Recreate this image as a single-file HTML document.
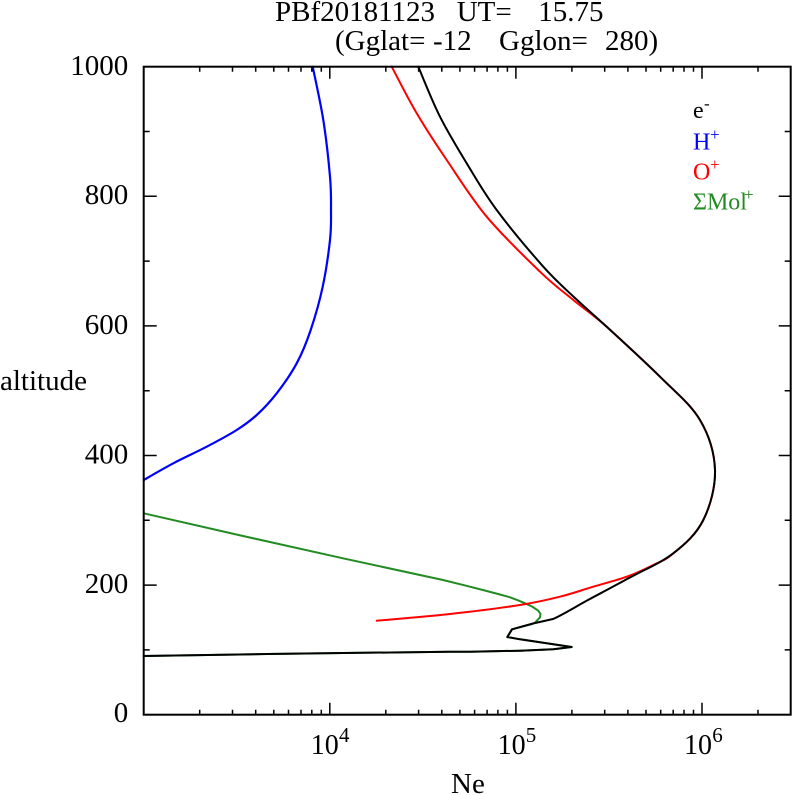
<!DOCTYPE html>
<html>
<head>
<meta charset="utf-8">
<style>
  html,body{margin:0;padding:0;background:#fff;}
  svg{display:block;}
  text{font-family:"Liberation Serif","DejaVu Serif",serif;}
</style>
</head>
<body>
<svg width="792" height="795" viewBox="0 0 792 795" xmlns="http://www.w3.org/2000/svg">
  <rect x="0" y="0" width="792" height="795" fill="#fff"/>

  <!-- Title -->
  <g font-size="29" fill="#000">
    <text x="275" y="21">PBf20181123</text>
    <text x="456.7" y="21">UT=</text>
    <text x="538.3" y="21">15.75</text>
    <text x="335" y="50">(Gglat=</text>
    <text x="433" y="50">-12</text>
    <text x="499" y="50">Gglon=</text>
    <text x="605" y="50">280)</text>
  </g>

  <!-- Curves -->
  <g fill="none" stroke-linejoin="round" stroke-linecap="round">
    <!-- H+ blue -->
    <path stroke="#0000ff" stroke-width="2.2" d="M312.7,66.7
      C314.5,75.6 320.4,101.7 323.3,120
      C326.2,138.3 328.7,161.7 330,176.7
      C331.3,191.7 331,199.45 331,210
      C331,220.55 331.4,227.2 330,240
      C328.6,252.8 325.9,271.7 322.7,286.7
      C319.5,301.7 315,317.2 310.7,330
      C306.4,342.8 302.4,352.75 296.7,363.3
      C291,373.85 283.4,384.7 276.7,393.3
      C270,401.9 263.4,408.9 256.7,415
      C250,421.1 245,424.7 236.7,430
      C228.4,435.3 217.3,441.15 206.7,446.7
      C196.1,452.25 183.8,457.75 173.3,463.3
      C162.8,468.85 148.6,477.2 143.7,480"/>
    <!-- Mol+ green -->
    <polyline stroke="#228b22" stroke-width="2" points="143.7,513.3 243,536 343,558.3 443,580 466,585.7 486.7,591 500,594.5 510,597.3 518,600.3 525,603.3 532,606.5 538.3,610.7 540.5,614 540,617.3 535,622.7 532,624 512,629.3 507.3,637 520,639.3 571.7,647 553.3,649.3 520,650.7 470,651.7 450,651.7 267,654 143.7,656"/>
    <!-- O+ red -->
    <path stroke="#ff0000" stroke-width="2" d="M391.7,66.7
      C395.9,74.5 407.5,97.75 416.7,113.3
      C425.9,128.85 435,142.8 446.7,160
      C458.4,177.2 471.15,198.1 486.7,216.7
      C502.25,235.3 525.6,257.8 540,271.7
      C554.4,285.6 562.1,290.8 573.3,300
      C584.5,309.2 592.55,314.2 607,327
      C621.2,340.1 644.5,361.2 660,376.7
      C675.5,392.2 690.8,404.4 700,420
      C709.2,435.6 714.45,453.3 715,470
      C715.55,486.7 710.3,506.1 703.3,520
      C696.35,533.9 685.9,543.6 673.3,553.3
      C665,560.8 661.1,561.1 653.3,565
      C645.5,568.9 636.7,573.1 626.7,576.7
      C616.7,580.3 604.4,583.4 593.3,586.7
      C582.2,590 572.2,593.65 560,596.7
      C547.8,599.75 538.3,602.1 520,605
      C501.7,607.9 473.9,611.4 450,614
      C426.1,616.6 388.9,619.6 376.7,620.7"/>
    <!-- e- black -->
    <path stroke="#000" stroke-width="2" d="M418.3,66.7
      C421.9,75 431.9,100.6 440,116.7
      C448.1,132.8 457.3,147.8 466.7,163.3
      C476.2,178.9 483.9,192.8 496.7,210
      C509.5,227.2 530.3,252 543.3,266.7
      C556.4,281.4 564.4,288 575,298
      C585.6,308.1 592.8,313.9 607,327
      C621.2,340.1 644.5,361.2 660,376.7
      C675.5,392.2 690.8,404.4 700,420
      C709.2,435.6 714.45,453.3 715,470
      C715.55,486.7 710.3,506.1 703.3,520
      C696.35,533.9 685.9,543.6 673.3,553.3
      C660.75,563.05 642.2,570.7 628,578.5
      C613.8,586.3 600.5,593.25 588,600
      C575.5,606.75 562.2,615.1 553,619
      L533,623.5 L512,629.3 L507.3,637 L520,639.3 L571.7,647 L553.3,649.3 L520,650.7 L470,651.7 L450,651.7 L267,654 L143.7,656"/>
  </g>

  <!-- Axes box -->
  <rect x="143.7" y="66.7" width="647" height="648" fill="none" stroke="#000" stroke-width="2"/>

  <!-- X ticks bottom & top -->
  <g stroke="#000" stroke-width="1.5">
    <path d="
      M199.7,714.7v-5 M232.5,714.7v-5 M255.7,714.7v-5 M273.8,714.7v-5 M288.5,714.7v-5 M301,714.7v-5 M311.8,714.7v-5 M321.3,714.7v-5
      M385.8,714.7v-5 M418.6,714.7v-5 M441.8,714.7v-5 M459.9,714.7v-5 M474.6,714.7v-5 M487.1,714.7v-5 M497.9,714.7v-5 M507.4,714.7v-5
      M571.9,714.7v-5 M604.7,714.7v-5 M627.9,714.7v-5 M646,714.7v-5 M660.7,714.7v-5 M673.2,714.7v-5 M684,714.7v-5 M693.5,714.7v-5
      M758,714.7v-5
      M199.7,66.7v5 M232.5,66.7v5 M255.7,66.7v5 M273.8,66.7v5 M288.5,66.7v5 M301,66.7v5 M311.8,66.7v5 M321.3,66.7v5
      M385.8,66.7v5 M418.6,66.7v5 M441.8,66.7v5 M459.9,66.7v5 M474.6,66.7v5 M487.1,66.7v5 M497.9,66.7v5 M507.4,66.7v5
      M571.9,66.7v5 M604.7,66.7v5 M627.9,66.7v5 M646,66.7v5 M660.7,66.7v5 M673.2,66.7v5 M684,66.7v5 M693.5,66.7v5
      M758,66.7v5"/>
    <path d="M329.8,714.7v-12 M515.9,714.7v-12 M702,714.7v-12 M329.8,66.7v12 M515.9,66.7v12 M702,66.7v12"/>
  </g>

  <!-- Y ticks left & right -->
  <g stroke="#000" stroke-width="1.5">
    <path d="
      M143.7,649.9h6 M143.7,520.3h6 M143.7,390.7h6 M143.7,261.1h6 M143.7,131.5h6
      M143.7,585.1h13 M143.7,455.5h13 M143.7,325.9h13 M143.7,196.3h13
      M790.7,649.9h-6 M790.7,520.3h-6 M790.7,390.7h-6 M790.7,261.1h-6 M790.7,131.5h-6
      M790.7,585.1h-12 M790.7,455.5h-12 M790.7,325.9h-12 M790.7,196.3h-12"/>
  </g>

  <!-- Y tick labels -->
  <g font-size="29" fill="#000" text-anchor="end">
    <text x="128.3" y="722">0</text>
    <text x="128.3" y="593">200</text>
    <text x="128.3" y="463.5">400</text>
    <text x="128.3" y="334">600</text>
    <text x="128.3" y="204">800</text>
    <text x="128.3" y="75">1000</text>
  </g>

  <!-- X tick labels -->
  <g fill="#000">
    <text x="310.7" y="754" font-size="28">10</text>
    <text x="339" y="742" font-size="21">4</text>
    <text x="497.6" y="754" font-size="28">10</text>
    <text x="525.8" y="742" font-size="21">5</text>
    <text x="684" y="754" font-size="28">10</text>
    <text x="712.2" y="742" font-size="21">6</text>
  </g>

  <!-- Axis labels -->
  <text x="451" y="793" font-size="29" fill="#000">Ne</text>
  <text x="0" y="390" font-size="29" fill="#000">altitude</text>

  <!-- Legend -->
  <g font-size="24">
    <text x="693" y="118" fill="#000">e</text>
    <text x="704" y="109" font-size="17" fill="#000">-</text>
    <text x="693" y="149.3" fill="#0000ff">H</text>
    <text x="710" y="140" font-size="17" fill="#0000ff">+</text>
    <text x="693" y="179.3" fill="#ff0000">O</text>
    <text x="710" y="170" font-size="17" fill="#ff0000">+</text>
    <text x="693" y="209.3" fill="#228b22">ΣMol</text>
    <text x="744" y="200" font-size="17" fill="#228b22">+</text>
  </g>
</svg>
</body>
</html>
